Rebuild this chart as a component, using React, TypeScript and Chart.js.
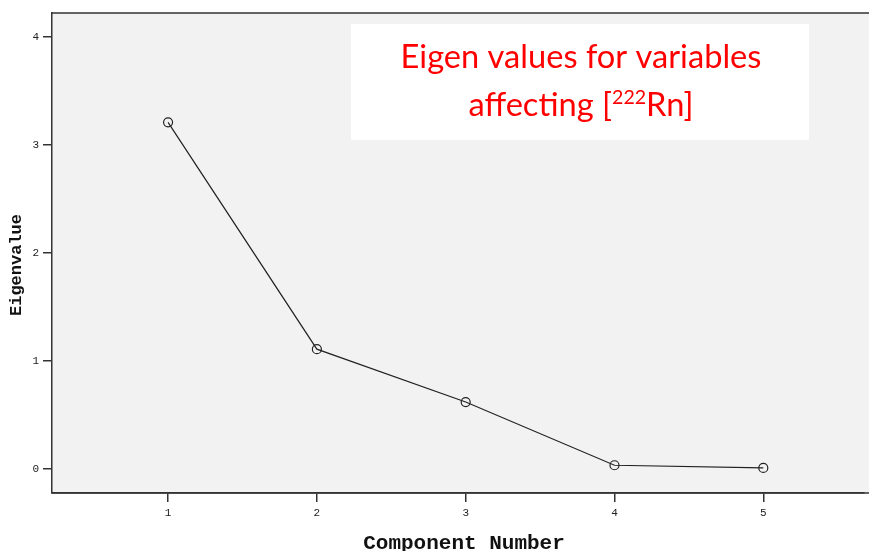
import React, { useEffect, useRef } from "react";
import { Chart, registerables } from "chart.js";

Chart.register(...registerables);

const components = [1, 2, 3, 4, 5];
const eigenvalues = [3.21, 1.11, 0.62, 0.035, 0.01];
const xTicks = [1, 2, 3, 4, 5];
const yTicks = [0, 1, 2, 3, 4];
const xTitle = "Component Number";
const yTitle = "Eigenvalue";
const titleLine1 = "Eigen values for variables";
const titleLine2a = "affecting [";
const titleSup = "222";
const titleLine2b = "Rn]";

const W = 869;
const H = 551;

export default function App() {
  const ref = useRef<HTMLCanvasElement>(null);
  useEffect(() => {
    document.body.style.margin = "0";
    const bgPlugin = {
      id: "bgPlugin",
      beforeDraw(chart: any) {
        const { ctx, chartArea: a } = chart;
        ctx.save();
        ctx.fillStyle = "#ffffff";
        ctx.fillRect(0, 0, chart.width, chart.height);
        ctx.fillStyle = "#f2f2f2";
        ctx.fillRect(a.left, a.top, chart.width - a.left, a.bottom - a.top);
        ctx.strokeStyle = "#333333";
        ctx.lineWidth = 1.5;
        ctx.beginPath();
        ctx.moveTo(a.left, a.top);
        ctx.lineTo(chart.width, a.top);
        ctx.moveTo(a.left, a.bottom);
        ctx.lineTo(chart.width, a.bottom);
        ctx.stroke();
        ctx.restore();
      },
      afterDraw(chart: any) {
        const { ctx } = chart;
        ctx.save();
        // axis titles
        ctx.fillStyle = "#111";
        ctx.textAlign = "center";
        ctx.textBaseline = "middle";
        ctx.font = "bold 21px 'Liberation Mono', 'Courier New', monospace";
        ctx.fillText(xTitle, 464, 544);
        ctx.save();
        ctx.translate(17, 265);
        ctx.rotate(-Math.PI / 2);
        ctx.font = "bold 17px 'Liberation Mono', 'Courier New', monospace";
        ctx.fillText(yTitle, 0, 0);
        ctx.restore();
        // title box
        ctx.fillStyle = "#ffffff";
        ctx.fillRect(351, 24, 458, 116);
        ctx.fillStyle = "#ff0000";
        ctx.textBaseline = "alphabetic";
        const fam = "Lato, 'Open Sans', sans-serif";
        ctx.font = `28px ${fam}`;
        const w1 = ctx.measureText(titleLine1).width;
        const size = 28 * (361 / w1);
        ctx.font = `${size}px ${fam}`;
        ctx.textAlign = "left";
        const l1w = ctx.measureText(titleLine1).width;
        ctx.fillText(titleLine1, 581 - l1w / 2, 68);
        const supSize = size * 0.6;
        ctx.font = `${size}px ${fam}`;
        const wa = ctx.measureText(titleLine2a).width;
        const wb = ctx.measureText(titleLine2b).width;
        ctx.font = `${supSize}px ${fam}`;
        const ws = ctx.measureText(titleSup).width;
        const total = wa + ws + wb;
        let x = 581 - total / 2;
        const base = 116;
        ctx.font = `${size}px ${fam}`;
        ctx.fillText(titleLine2a, x, base);
        x += wa;
        ctx.font = `${supSize}px ${fam}`;
        ctx.fillText(titleSup, x, base - size * 0.38);
        x += ws;
        ctx.font = `${size}px ${fam}`;
        ctx.fillText(titleLine2b, x, base);
        ctx.restore();
      },
    };
    const chart = new Chart(ref.current!, {
      type: "line",
      data: {
        datasets: [
          {
            data: components.map((c, i) => ({ x: c, y: eigenvalues[i] })),
            borderColor: "#222222",
            borderWidth: 1.2,
            pointRadius: 4.5,
            pointBorderColor: "#222222",
            pointBackgroundColor: "rgba(0,0,0,0)",
            pointBorderWidth: 1.2,
            tension: 0,
          },
        ],
      },
      options: {
        animation: false,
        responsive: false,
        layout: { padding: { top: 13, right: 0, left: 0, bottom: 0 } },
        plugins: { legend: { display: false }, tooltip: { enabled: false } },
        scales: {
          x: {
            type: "linear",
            min: 0.22,
            max: 5.672,
            afterBuildTicks: (s: any) => {
              s.ticks = xTicks.map((v) => ({ value: v }));
            },
            afterFit: (s: any) => {
              s.height = 58;
            },
            grid: { drawOnChartArea: false, drawTicks: true, tickLength: 9, color: "#333333", lineWidth: 1.5 },
            border: { display: true, color: "#333333", width: 1.5 },
            ticks: { color: "#222", font: { family: "'Liberation Mono', monospace", size: 11 }, padding: 4, maxRotation: 0 },
          },
          y: {
            type: "linear",
            min: -0.222,
            max: 4.222,
            afterBuildTicks: (s: any) => {
              s.ticks = yTicks.map((v) => ({ value: v }));
            },
            afterFit: (s: any) => {
              s.width = 52;
            },
            grid: { drawOnChartArea: false, drawTicks: true, tickLength: 9, color: "#333333", lineWidth: 1.5 },
            border: { display: true, color: "#333333", width: 1.5 },
            ticks: { color: "#222", font: { family: "'Liberation Mono', monospace", size: 11 }, padding: 4 },
          },
        },
      },
      plugins: [bgPlugin],
    } as any);
    return () => chart.destroy();
  }, []);
  return (
    <div style={{ width: W, height: H, background: "#fff" }}>
      <canvas ref={ref} width={W} height={H} style={{ display: "block", width: W, height: H }} />
    </div>
  );
}
